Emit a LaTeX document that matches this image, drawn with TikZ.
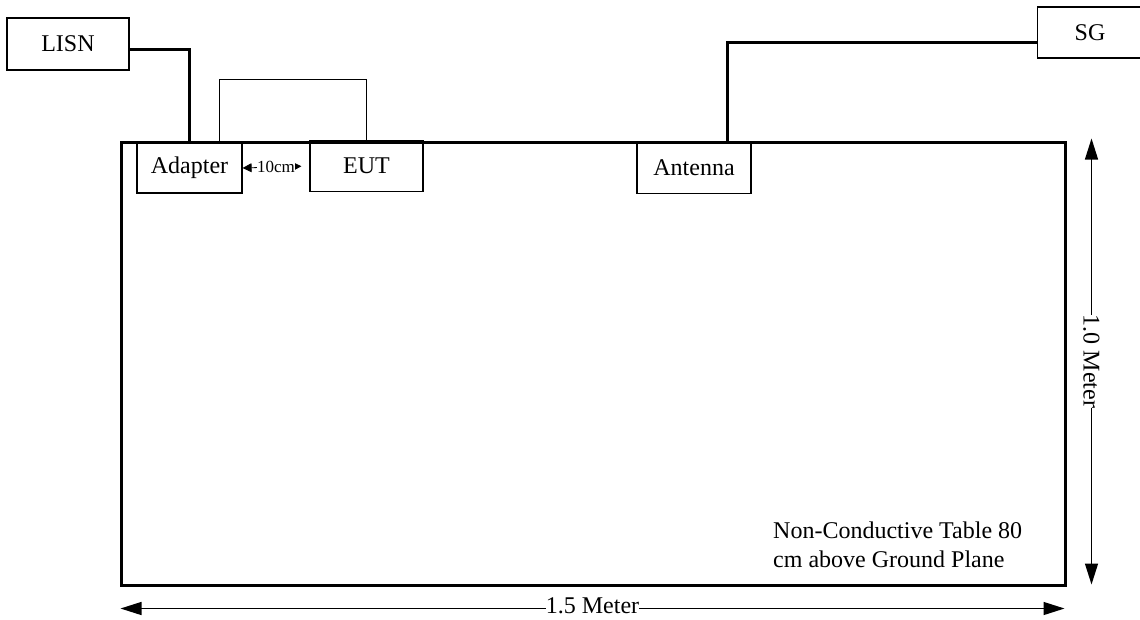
\documentclass[tikz,border=0pt]{standalone}
\usepackage{fontspec}
\setmainfont{Liberation Serif}
\usetikzlibrary{arrows.meta, positioning}

\begin{document}
\begin{tikzpicture}[
  x=1pt, y=-1pt,
  box/.style={draw, line width=1.2pt, inner sep=0pt, align=center,
              font=\fontsize{24}{29}\selectfont},
  wire/.style={line width=3pt},
  cable/.style={line width=0.9pt},
  dim/.style={line width=1.4pt, {Triangle[length=21pt, width=13pt]}-{Triangle[length=21pt, width=13pt]}},
  every node/.style={font=\fontsize{24}{29}\selectfont}
]
  \useasboundingbox (0,0) rectangle (1140,619);

  % table
  \node[draw, line width=3pt, minimum width=944pt, minimum height=443pt, inner sep=0pt]
    (table) at (593,363.5) {};

  % equipment
  \node[box, minimum width=122pt, minimum height=52pt] (lisn)    at (68,44)      {LISN};
  \node[box, minimum width=105pt, minimum height=50pt] (adapter) at (189.5,168)  {Adapter};
  \node[box, minimum width=113pt, minimum height=51pt] (eut)     at (366.5,166)  {EUT};
  \node[box, minimum width=114pt, minimum height=51pt] (antenna) at (694,168)    {Antenna};
  \node[box, minimum width=105pt, minimum height=51pt] (sg)      at (1090,32.5)  {SG};

  % cables
  \draw[wire] ([yshift=-5pt]lisn.east) -| (adapter.north);
  \draw[wire] ([yshift=-9.5pt]sg.west) -| ([xshift=33pt]antenna.north);
  \draw[cable] ([xshift=30pt]adapter.north) -- ++(0,-63) -| (eut.north);

  % spacing
  \draw[line width=0.8pt, {Triangle[length=9pt, width=9pt]}-{Triangle[length=9pt, width=9pt]},
        shorten >=8pt] (adapter.east) -- node[fill=white, inner sep=0pt,
        font=\fontsize{17}{19}\selectfont] {10cm} (eut.west);

  % dimensions
  \coordinate (vtop) at ([xshift=25pt, yshift=2pt]table.north east);
  \coordinate (vbot) at ([xshift=25pt, yshift=2pt]table.south east);
  \draw[dim] (vtop) -- node[fill=white, inner sep=0pt, rotate=-90] {1.0 Meter} (vbot);
  \coordinate (hleft)  at ([xshift=1pt, yshift=-22pt]table.south west);
  \coordinate (hright) at ([xshift=-2pt, yshift=-22pt]table.south east);
  \draw[dim] (hleft) -- node[fill=white, inner sep=0pt, yshift=2.5pt] {1.5 Meter} (hright);

  \node[anchor=north west, align=left, inner sep=0pt] (note) at (773,521.5)
    {Non-Conductive Table 80\\cm above Ground Plane};
\end{tikzpicture}
\end{document}
